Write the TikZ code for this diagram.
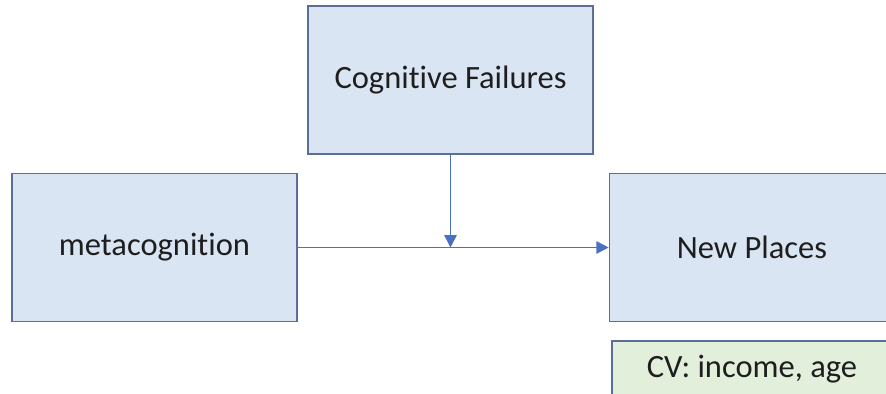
\documentclass[tikz,border=0pt]{standalone}
\usepackage{fontspec}
\setmainfont[Ligatures=NoCommon]{Carlito}
\usetikzlibrary{arrows.meta,positioning}
\definecolor{boxfill}{HTML}{DAE5F4}
\definecolor{boxline}{HTML}{5A6E96}
\definecolor{cvfill}{HTML}{E2EFDA}
\definecolor{arrowline}{HTML}{4A70C0}
\definecolor{textdark}{HTML}{1E1E1E}

\begin{document}
\begin{tikzpicture}[-{Triangle[length=7pt,width=7pt]},shorten >=0pt,
  thick,
  var node/.style={rectangle,fill=boxfill,draw=boxline,line width=0.8pt,
    minimum width=5.7cm,minimum height=2.96cm,text=textdark,
    font=\fontsize{18.5}{22}\selectfont},
  cv node/.style={var node,fill=cvfill,minimum width=5.6cm,minimum height=1.12cm}]

  \useasboundingbox (0,0) rectangle (17.72,-7.88);

  \node[var node] (meta) at (3.09,-4.95) {metacognition};
  \node[var node] (new) [right=6.22cm of meta] {New Places};
  \node[var node] (cog) at (9.01,-1.6) {Cognitive Failures};
  \node[cv node] (cv) at (15.04,-7.38) {CV: income, age};
  \coordinate (mid) at (cog.south |- meta.east);

  \path[every edge/.style={draw=arrowline,line width=0.9pt}]
    (meta) edge (new)
    (cog) edge (mid);
\end{tikzpicture}
\end{document}
